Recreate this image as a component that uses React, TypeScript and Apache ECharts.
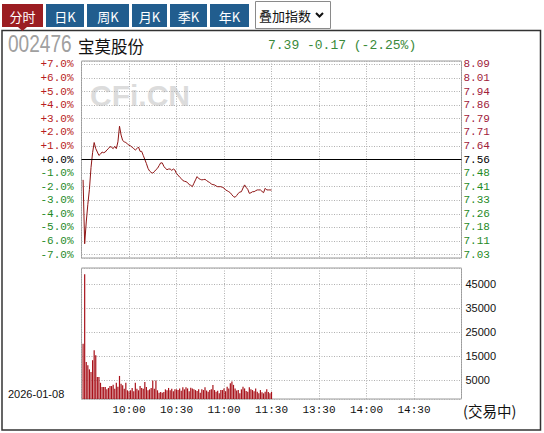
import React, { useEffect, useRef } from 'react';
import * as echarts from 'echarts';

// ---- data ----
const PREV_CLOSE = 7.56;
const stockCode = '002476';
const stockName = '宝莫股份';
const quoteText = '7.39 -0.17 (-2.25%)';
const tradeDate = '2026-01-08';
const statusText = '(交易中)';
const watermark = 'CFi.CN';
const tabs = ['分时', '日K', '周K', '月K', '季K', '年K'];
const overlayLabel = '叠加指数';

// minute index (0 = 9:30 ... 120 = 11:30/13:00 ... 240 = 15:00) -> label
const timeTickLabels: Record<number, string> = {
  30: '10:00',
  60: '10:30',
  90: '11:00',
  120: '11:30',
  150: '13:30',
  180: '14:00',
  210: '14:30',
};

// percent change vs previous close, one value per minute from 9:31 to 11:30
const pctChange = [
  -1.5, -6.2, -4.6, -3.3, -2.2, -0.6, 0.5, 1.25, 0.8, 0.55,
  0.3, 0.4, 0.55, 0.5, 0.55, 0.7, 0.8, 0.95, 0.9, 0.8,
  0.97, 0.8, 1.3, 2.45, 1.8, 1.4, 1.3, 1.25, 1.15, 1.05,
  1.0, 0.9, 0.8, 0.7, 0.8, 0.92, 0.6, 0.6, 0.3, 0.0,
  -0.3, -0.65, -0.85, -0.95, -1.0, -0.9, -0.75, -0.65, -0.45, -0.25,
  -0.25, -0.5, -0.65, -0.75, -0.7, -0.7, -0.8, -0.7, -0.77, -1.05,
  -1.15, -1.3, -1.4, -1.55, -1.6, -1.63, -1.7, -1.85, -1.9, -2.0,
  -1.75, -1.5, -1.26, -1.4, -1.46, -1.5, -1.48, -1.46, -1.55, -1.63,
  -1.7, -1.8, -1.85, -1.87, -1.95, -2.0, -2.0, -2.0, -2.05, -2.1,
  -2.24, -2.3, -2.37, -2.45, -2.6, -2.73, -2.78, -2.65, -2.49, -2.4,
  -2.37, -2.1, -1.87, -2.05, -2.2, -2.49, -2.45, -2.37, -2.37, -2.3,
  -2.24, -2.24, -2.24, -2.35, -2.44, -2.12, -2.24, -2.24, -2.24, -2.25,
];

// volume per minute from 9:31 to 11:30
const volume = [
  23500, 53000, 15700, 14300, 12600, 11500, 16500, 20700, 18600, 9400,
  9400, 6900, 5100, 5100, 5100, 4100, 4700, 5500, 5500, 6100,
  4400, 6900, 5200, 9800, 6500, 5800, 4400, 6900, 3700, 3300,
  3700, 4700, 3300, 6900, 4400, 3700, 5500, 4700, 4400, 7200,
  5100, 3700, 4100, 4700, 7900, 4400, 7900, 3700, 2700, 3000,
  2700, 3000, 4100, 3700, 4700, 3700, 4400, 3300, 4100, 4100,
  3800, 4500, 3500, 5000, 4100, 5000, 4500, 3300, 4800, 4500,
  4100, 3800, 3400, 4100, 2700, 4100, 3800, 5000, 3600, 3100,
  3800, 4100, 6000, 3800, 3100, 3500, 2400, 3800, 3800, 4500,
  3300, 5200, 4500, 6700, 7400, 6000, 4500, 3600, 3800, 2400,
  4100, 5200, 4500, 3400, 3100, 5000, 4100, 3800, 3300, 4500,
  3100, 2400, 3800, 2900, 2400, 3100, 4100, 3000, 2400, 3000,
];

// ---- styling constants ----
const MONO = '"Liberation Mono", "DejaVu Sans Mono", monospace';
const SANS = '"Liberation Sans", Arial, sans-serif';
const CJK = '"Noto Sans CJK SC", "Noto Sans", sans-serif';
const RED = '#b81c22';
const RED_R = '#a0203a';
const GREEN = '#1f8a1f';
const GRID_LINE = { show: true, lineStyle: { color: '#b0b0b0', type: [1, 1.5] as any, width: 1 } };

const PCT_RANGE = 7.25;
const VOL_MAX = 55700;
const VOL_LABEL_SHIFT = 5000;
const VOL_LABEL_MIN = -2950 + VOL_LABEL_SHIFT;
const VOL_LABEL_MAX = 51900 + VOL_LABEL_SHIFT;

const isWhole = (v: number) => Math.abs(v - Math.round(v)) < 1e-6;

export default function App() {
  const ref = useRef<HTMLDivElement>(null);

  useEffect(() => {
    if (!ref.current) return;
    const chart = echarts.init(ref.current, undefined, { renderer: 'svg' });

    const priceData = pctChange.map((v, i) => [i + 1, v]);
    const volData = volume.map((v, i) => [i + 1, v]);

    const pctColor = (val: any) => {
      const v = Number(val);
      if (Math.abs(v) < 1e-6) return '#000';
      return v > 0 ? RED : GREEN;
    };
    const priceColor = (val: any) => {
      const v = Number(val);
      if (Math.abs(v) < 1e-6) return '#000';
      return v > 0 ? RED_R : GREEN;
    };

    const tabX = [
      [2, 43],
      [46, 84],
      [87, 129],
      [132, 167],
      [170, 207],
      [210, 249],
    ];

    const graphic: any[] = [];
    // outer panel
    graphic.push({
      type: 'rect',
      shape: { x: 2, y: 30.5, width: 538.5, height: 399.5 },
      style: { fill: 'none', stroke: '#333', lineWidth: 1.5 },
      z: 0,
    });
    tabs.forEach((t, i) => {
      const [x0, x1] = tabX[i];
      const fill = i === 0 ? '#9b1d21' : '#215d8e';
      graphic.push({
        type: 'rect',
        shape: { x: x0, y: 4, width: x1 - x0, height: 23 },
        style: { fill },
      });
      graphic.push({
        type: 'text',
        x: (x0 + x1) / 2,
        y: 16,
        style: {
          text: t,
          fill: '#fff',
          font: `13px ${CJK}`,
          align: 'center',
          verticalAlign: 'middle',
        },
      });
    });
    graphic.push({
      type: 'polygon',
      shape: { points: [[18, 27], [27, 27], [22.5, 31]] },
      style: { fill: '#9b1d21' },
    });
    // overlay select box
    graphic.push({
      type: 'rect',
      shape: { x: 255.5, y: 1.5, width: 75, height: 27 },
      style: { fill: '#fff', stroke: '#8a8a8a', lineWidth: 1 },
    });
    graphic.push({
      type: 'text',
      x: 259,
      y: 15.5,
      style: { text: overlayLabel, fill: '#111', font: `13px ${CJK}`, verticalAlign: 'middle' },
    });
    graphic.push({
      type: 'polyline',
      shape: { points: [[316, 13], [319.5, 16.5], [323, 13]] },
      style: { stroke: '#111', lineWidth: 2, fill: 'none' },
    });
    // header
    graphic.push({
      type: 'text',
      x: 8,
      y: 55,
      scaleX: 0.83,
      style: { text: stockCode, fill: '#a0a0a0', font: `23px ${SANS}`, verticalAlign: 'bottom' },
    });
    graphic.push({
      type: 'text',
      x: 78,
      y: 46,
      style: { text: stockName, fill: '#111', font: `16.5px ${CJK}`, verticalAlign: 'middle' },
    });
    graphic.push({
      type: 'text',
      x: 268,
      y: 45,
      style: { text: quoteText, fill: '#3a8a3a', font: `13px ${MONO}`, verticalAlign: 'middle' },
    });
    // watermark
    graphic.push({
      type: 'text',
      x: 90,
      y: 95,
      z: 0,
      style: { text: watermark, fill: '#dcdcdc', font: `bold 30px ${SANS}`, verticalAlign: 'middle' },
    });
    // date & status
    graphic.push({
      type: 'text',
      x: 8,
      y: 394,
      style: { text: tradeDate, fill: '#111', font: `11px ${SANS}`, verticalAlign: 'middle' },
    });
    graphic.push({
      type: 'text',
      x: 463,
      y: 410,
      style: { text: statusText, fill: '#111', font: `14.5px ${CJK}`, verticalAlign: 'middle' },
    });

    const option: any = {
      animation: false,
      backgroundColor: '#fff',
      graphic,
      grid: [
        { left: 81.5, top: 61, width: 380, height: 197, show: true, borderColor: '#9a9a9a', borderWidth: 1, backgroundColor: 'transparent' },
        { left: 81.5, top: 268, width: 380, height: 131, show: true, borderColor: '#9a9a9a', borderWidth: 1, backgroundColor: 'transparent' },
      ],
      xAxis: [
        {
          type: 'value', gridIndex: 0, min: 0, max: 240, interval: 30,
          axisLine: { show: false }, axisTick: { show: false }, axisLabel: { show: false },
          splitLine: GRID_LINE,
        },
        {
          type: 'value', gridIndex: 1, min: 0, max: 240, interval: 30,
          axisLine: { show: false }, axisTick: { show: false },
          axisLabel: {
            show: true,
            formatter: (v: number) => timeTickLabels[Math.round(v)] ?? '',
            fontFamily: MONO, fontSize: 11, color: '#111', margin: 5,
          },
          splitLine: GRID_LINE,
        },
      ],
      yAxis: [
        {
          type: 'value', gridIndex: 0, position: 'left', min: -PCT_RANGE, max: PCT_RANGE,
          minInterval: 1, maxInterval: 1, splitNumber: 14,
          axisLine: { show: false }, axisTick: { show: false },
          splitLine: GRID_LINE,
          axisLabel: {
            formatter: (v: number) => {
              if (!isWhole(v)) return '';
              const r = Math.round(v);
              return (r >= 0 ? '+' : '') + r.toFixed(1) + '%';
            },
            color: pctColor, fontFamily: MONO, fontSize: 11, margin: 8,
          },
        },
        {
          type: 'value', gridIndex: 0, position: 'right', min: -PCT_RANGE, max: PCT_RANGE,
          minInterval: 1, maxInterval: 1, splitNumber: 14,
          axisLine: { show: false }, axisTick: { show: false }, splitLine: { show: false },
          axisLabel: {
            formatter: (v: number) => (isWhole(v) ? (PREV_CLOSE * (1 + Math.round(v) / 100)).toFixed(2) : ''),
            color: priceColor, fontFamily: MONO, fontSize: 11, margin: 2,
          },
        },
        { type: 'value', gridIndex: 1, min: 0, max: VOL_MAX, show: false },
        {
          type: 'value', gridIndex: 1, position: 'right', min: VOL_LABEL_MIN, max: VOL_LABEL_MAX,
          minInterval: 10000, maxInterval: 10000, splitNumber: 5,
          axisLine: { show: false }, axisTick: { show: false },
          splitLine: GRID_LINE,
          axisLabel: {
            formatter: (u: number) => (Math.abs(u % 10000) < 1e-6 ? String(Math.round(u - VOL_LABEL_SHIFT)) : ''),
            color: '#111', fontFamily: SANS, fontSize: 11, margin: 4, padding: [6, 0, 0, 0],
          },
        },
      ],
      series: [
        {
          type: 'line', xAxisIndex: 0, yAxisIndex: 0, data: priceData,
          symbol: 'none', lineStyle: { color: '#8e1414', width: 1 }, z: 3,
          markLine: {
            silent: true, symbol: 'none', label: { show: false },
            lineStyle: { color: '#000', type: 'solid', width: 1 },
            data: [{ yAxis: 0 }],
          },
        },
        {
          type: 'bar', xAxisIndex: 1, yAxisIndex: 2, data: volData,
          barWidth: 1.2, itemStyle: { color: '#a8121a' },
        },
      ],
    };

    chart.setOption(option);
    return () => chart.dispose();
  }, []);

  return (
    <div
      ref={ref}
      style={{ position: 'absolute', left: 0, top: 0, width: 544, height: 433, background: '#fff' }}
    />
  );
}
